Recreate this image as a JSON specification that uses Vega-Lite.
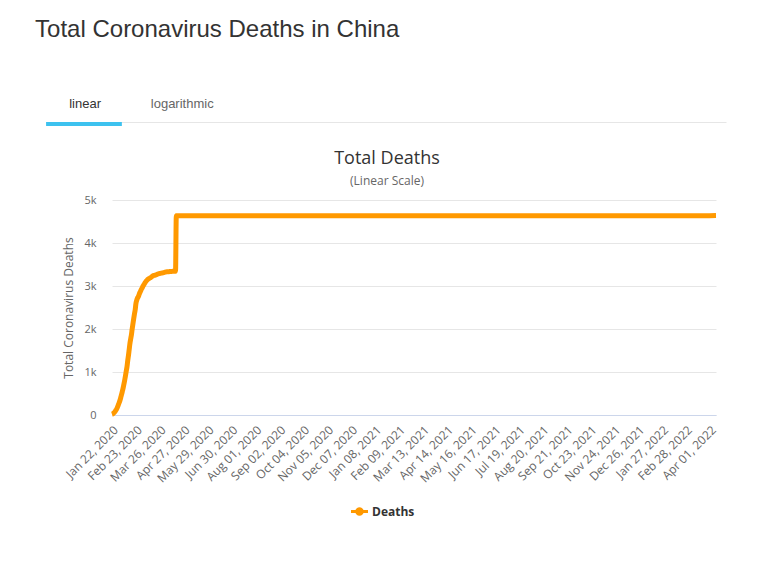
{
  "$schema": "https://vega.github.io/schema/vega-lite/v6.json",
  "background": "white",
  "padding": {"left": 35, "top": 18, "right": 10, "bottom": 10},
  "config": {
    "view": {"stroke": null},
    "font": "Open Sans"
  },
  "title": {
    "text": "Total Coronavirus Deaths in China",
    "anchor": "start",
    "font": "Liberation Sans",
    "fontSize": 24,
    "fontWeight": "normal",
    "color": "#333333",
    "dx": -11,
    "offset": 56
  },
  "spacing": 24,
  "vconcat": [
    {
      "width": 604,
      "height": 4,
      "data": {"values": [
        {"tab": "linear", "active": true},
        {"tab": "logarithmic", "active": false}
      ]},
      "encoding": {
        "x": {
          "field": "tab", "type": "nominal", "sort": null,
          "scale": {
            "domain": ["linear", "logarithmic", "·1", "·2", "·3", "·4", "·5"],
            "range": [-66, 614],
            "paddingInner": 0, "paddingOuter": 0, "align": 0
          },
          "axis": {"orient": "top", "labels": false, "ticks": false, "title": null, "domainColor": "#e6e6e6", "domainWidth": 1}
        }
      },
      "layer": [
        {
          "transform": [{"filter": "datum.active"}],
          "mark": {"type": "bar", "color": "#3dc2ef", "width": {"band": 0.78}, "xOffset": -10.6}
        },
        {
          "mark": {"type": "text", "font": "Liberation Sans", "fontSize": 13, "dx": -9.5, "dy": -20},
          "encoding": {
            "text": {"field": "tab"},
            "color": {"condition": {"test": "datum.active", "value": "#333333"}, "value": "#666666"}
          }
        }
      ]
    },
    {
      "width": 604,
      "height": 215,
      "title": {
        "text": "Total Deaths",
        "subtitle": "(Linear Scale)",
        "anchor": "middle",
        "fontSize": 18,
        "fontWeight": "normal",
        "color": "#333333",
        "subtitleFontSize": 12,
        "subtitleColor": "#666666",
        "subtitlePadding": 8,
        "offset": 7,
        "dx": -27
      },
      "data": {"values": [
        {"date": "2020-01-22", "deaths": 17},
        {"date": "2020-01-23", "deaths": 25},
        {"date": "2020-01-24", "deaths": 41},
        {"date": "2020-01-25", "deaths": 56},
        {"date": "2020-01-26", "deaths": 80},
        {"date": "2020-01-27", "deaths": 106},
        {"date": "2020-01-28", "deaths": 132},
        {"date": "2020-01-29", "deaths": 170},
        {"date": "2020-01-30", "deaths": 213},
        {"date": "2020-01-31", "deaths": 259},
        {"date": "2020-02-01", "deaths": 304},
        {"date": "2020-02-02", "deaths": 361},
        {"date": "2020-02-03", "deaths": 425},
        {"date": "2020-02-04", "deaths": 490},
        {"date": "2020-02-05", "deaths": 563},
        {"date": "2020-02-06", "deaths": 636},
        {"date": "2020-02-07", "deaths": 722},
        {"date": "2020-02-08", "deaths": 811},
        {"date": "2020-02-09", "deaths": 908},
        {"date": "2020-02-10", "deaths": 1016},
        {"date": "2020-02-11", "deaths": 1113},
        {"date": "2020-02-12", "deaths": 1259},
        {"date": "2020-02-13", "deaths": 1380},
        {"date": "2020-02-14", "deaths": 1523},
        {"date": "2020-02-15", "deaths": 1665},
        {"date": "2020-02-16", "deaths": 1770},
        {"date": "2020-02-17", "deaths": 1868},
        {"date": "2020-02-18", "deaths": 2004},
        {"date": "2020-02-19", "deaths": 2118},
        {"date": "2020-02-20", "deaths": 2236},
        {"date": "2020-02-21", "deaths": 2345},
        {"date": "2020-02-22", "deaths": 2442},
        {"date": "2020-02-23", "deaths": 2592},
        {"date": "2020-02-24", "deaths": 2663},
        {"date": "2020-02-25", "deaths": 2715},
        {"date": "2020-02-26", "deaths": 2744},
        {"date": "2020-02-27", "deaths": 2788},
        {"date": "2020-02-28", "deaths": 2835},
        {"date": "2020-02-29", "deaths": 2870},
        {"date": "2020-03-01", "deaths": 2912},
        {"date": "2020-03-02", "deaths": 2943},
        {"date": "2020-03-03", "deaths": 2981},
        {"date": "2020-03-04", "deaths": 3012},
        {"date": "2020-03-05", "deaths": 3042},
        {"date": "2020-03-06", "deaths": 3070},
        {"date": "2020-03-07", "deaths": 3097},
        {"date": "2020-03-08", "deaths": 3119},
        {"date": "2020-03-09", "deaths": 3136},
        {"date": "2020-03-10", "deaths": 3158},
        {"date": "2020-03-11", "deaths": 3169},
        {"date": "2020-03-12", "deaths": 3176},
        {"date": "2020-03-13", "deaths": 3189},
        {"date": "2020-03-14", "deaths": 3199},
        {"date": "2020-03-15", "deaths": 3213},
        {"date": "2020-03-16", "deaths": 3226},
        {"date": "2020-03-17", "deaths": 3237},
        {"date": "2020-03-18", "deaths": 3245},
        {"date": "2020-03-19", "deaths": 3249},
        {"date": "2020-03-20", "deaths": 3253},
        {"date": "2020-03-21", "deaths": 3259},
        {"date": "2020-03-22", "deaths": 3270},
        {"date": "2020-03-23", "deaths": 3277},
        {"date": "2020-03-24", "deaths": 3281},
        {"date": "2020-03-25", "deaths": 3287},
        {"date": "2020-03-26", "deaths": 3292},
        {"date": "2020-03-27", "deaths": 3295},
        {"date": "2020-03-28", "deaths": 3300},
        {"date": "2020-03-29", "deaths": 3304},
        {"date": "2020-03-30", "deaths": 3305},
        {"date": "2020-03-31", "deaths": 3312},
        {"date": "2020-04-01", "deaths": 3318},
        {"date": "2020-04-02", "deaths": 3322},
        {"date": "2020-04-03", "deaths": 3326},
        {"date": "2020-04-04", "deaths": 3329},
        {"date": "2020-04-05", "deaths": 3331},
        {"date": "2020-04-06", "deaths": 3331},
        {"date": "2020-04-07", "deaths": 3333},
        {"date": "2020-04-08", "deaths": 3335},
        {"date": "2020-04-09", "deaths": 3336},
        {"date": "2020-04-10", "deaths": 3339},
        {"date": "2020-04-11", "deaths": 3339},
        {"date": "2020-04-12", "deaths": 3341},
        {"date": "2020-04-13", "deaths": 3341},
        {"date": "2020-04-14", "deaths": 3342},
        {"date": "2020-04-15", "deaths": 3342},
        {"date": "2020-04-16", "deaths": 3342},
        {"date": "2020-04-17", "deaths": 4632},
        {"date": "2020-05-17", "deaths": 4633},
        {"date": "2020-06-17", "deaths": 4634},
        {"date": "2020-09-01", "deaths": 4634},
        {"date": "2020-12-31", "deaths": 4634},
        {"date": "2021-01-15", "deaths": 4635},
        {"date": "2021-01-31", "deaths": 4636},
        {"date": "2021-06-30", "deaths": 4636},
        {"date": "2021-12-31", "deaths": 4636},
        {"date": "2022-03-31", "deaths": 4636},
        {"date": "2022-04-09", "deaths": 4638}
      ]},
      "mark": {"type": "line", "strokeWidth": 5, "interpolate": "monotone"},
      "encoding": {
        "x": {
          "field": "date", "type": "temporal",
          "scale": {"type": "utc", "nice": false, "domain": [
            {"year": 2020, "month": 1, "date": 22, "utc": true},
            {"year": 2022, "month": 4, "date": 9, "utc": true}
          ]},
          "axis": {
            "title": null,
            "format": "%b %d, %Y",
            "labelAngle": -45,
            "labelFontSize": 12,
            "labelColor": "#666666",
            "labelPadding": 9,
            "labelOverlap": false,
            "labelFlush": false,
            "labelBound": false,
            "ticks": false,
            "grid": false,
            "domainColor": "#ccd6eb",
            "values": [
              {"year": 2020, "month": 1, "date": 22, "utc": true},
              {"year": 2020, "month": 2, "date": 23, "utc": true},
              {"year": 2020, "month": 3, "date": 26, "utc": true},
              {"year": 2020, "month": 4, "date": 27, "utc": true},
              {"year": 2020, "month": 5, "date": 29, "utc": true},
              {"year": 2020, "month": 6, "date": 30, "utc": true},
              {"year": 2020, "month": 8, "date": 1, "utc": true},
              {"year": 2020, "month": 9, "date": 2, "utc": true},
              {"year": 2020, "month": 10, "date": 4, "utc": true},
              {"year": 2020, "month": 11, "date": 5, "utc": true},
              {"year": 2020, "month": 12, "date": 7, "utc": true},
              {"year": 2021, "month": 1, "date": 8, "utc": true},
              {"year": 2021, "month": 2, "date": 9, "utc": true},
              {"year": 2021, "month": 3, "date": 13, "utc": true},
              {"year": 2021, "month": 4, "date": 14, "utc": true},
              {"year": 2021, "month": 5, "date": 16, "utc": true},
              {"year": 2021, "month": 6, "date": 17, "utc": true},
              {"year": 2021, "month": 7, "date": 19, "utc": true},
              {"year": 2021, "month": 8, "date": 20, "utc": true},
              {"year": 2021, "month": 9, "date": 21, "utc": true},
              {"year": 2021, "month": 10, "date": 23, "utc": true},
              {"year": 2021, "month": 11, "date": 24, "utc": true},
              {"year": 2021, "month": 12, "date": 26, "utc": true},
              {"year": 2022, "month": 1, "date": 27, "utc": true},
              {"year": 2022, "month": 2, "date": 28, "utc": true},
              {"year": 2022, "month": 4, "date": 1, "utc": true}
            ]
          }
        },
        "y": {
          "field": "deaths", "type": "quantitative",
          "scale": {"domain": [0, 5000], "nice": false},
          "axis": {
            "title": "Total Coronavirus Deaths",
            "titleFontSize": 12,
            "titleFontWeight": "normal",
            "titleColor": "#666666",
            "titlePadding": 8,
            "values": [0, 1000, 2000, 3000, 4000, 5000],
            "labelExpr": "datum.value === 0 ? '0' : (datum.value / 1000) + 'k'",
            "labelFontSize": 11,
            "labelColor": "#666666",
            "labelPadding": 16,
            "ticks": false,
            "domain": false,
            "grid": true,
            "gridColor": "#e6e6e6"
          }
        },
        "color": {
          "datum": "Deaths",
          "type": "nominal",
          "scale": {"range": ["#ff9900"]},
          "legend": {
            "title": null,
            "orient": "none",
            "legendX": 239,
            "legendY": 381,
            "labelFontSize": 12,
            "labelFontWeight": "bold",
            "labelColor": "#333333",
            "symbolType": "M-1,-0.18L1,-0.18L1,0.18L-1,0.18Z M0.5,0A0.5,0.5,0,1,1,-0.5,0A0.5,0.5,0,1,1,0.5,0Z",
            "symbolSize": 289,
            "symbolFillColor": "#ff9900",
            "symbolStrokeWidth": 0
          }
        }
      }
    }
  ]
}
